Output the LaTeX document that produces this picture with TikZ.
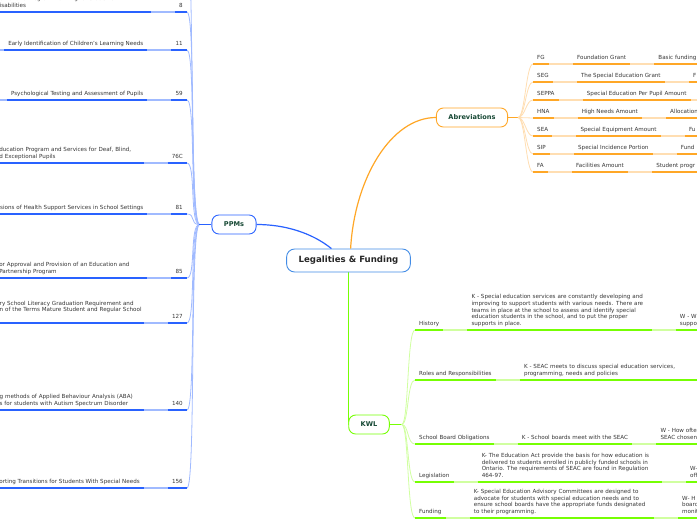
\documentclass[tikz,border=0pt]{standalone}
\usepackage{fontspec}
\setsansfont{DejaVu Sans}
\usetikzlibrary{positioning, calc}
\pgfdeclarelayer{background}
\pgfsetlayers{background,main}

\definecolor{rootblue}{RGB}{66,140,230}
\definecolor{ppmblue}{RGB}{41,98,255}
\definecolor{ppmpale}{RGB}{160,186,255}
\definecolor{abrorange}{RGB}{255,167,38}
\definecolor{abrpale}{RGB}{255,222,178}
\definecolor{kwlgreen}{RGB}{118,255,3}
\definecolor{kwlpale}{RGB}{208,255,160}
\definecolor{topictext}{RGB}{22,72,52}
\definecolor{itemtext}{RGB}{55,55,55}

\newcommand{\itemfont}{\sffamily\fontsize{5.6}{6.7}\selectfont}

\begin{document}
\begin{tikzpicture}[x=1pt, y=-1pt,
  rootnode/.style={draw=rootblue, line width=0.9pt, rounded corners=8pt, fill=white,
    minimum height=23pt, inner xsep=12pt, text=black!85,
    font=\sffamily\bfseries\fontsize{8.6}{10}\selectfont},
  topic/.style={draw=#1, line width=0.9pt, rounded corners=7pt, fill=white,
    minimum height=19pt, inner xsep=12pt, text=topictext,
    font=\sffamily\bfseries\fontsize{6.6}{8}\selectfont},
  leaf/.style={font=\itemfont, text=itemtext, inner xsep=4pt, inner ysep=2.2pt,
    align=left, execute at end node=\strut},
  mainlink/.style={line width=1.2pt},
  ppmul/.style={draw=ppmblue, line width=1.4pt},
  ppmgap/.style={draw=ppmpale, line width=1.4pt},
  ppmlink/.style={draw=ppmpale, line width=0.8pt},
  abrul/.style={draw=abrorange, line width=1.4pt},
  abrgap/.style={draw=abrpale, line width=1.4pt},
  abrlink/.style={draw=abrpale, line width=0.8pt},
  kwlul/.style={draw=kwlgreen, line width=1.4pt},
  kwlgap/.style={draw=kwlpale, line width=1.4pt},
  kwllink/.style={draw=kwlpale, line width=0.8pt}]

\useasboundingbox (0,0) rectangle (697,520);
\clip (0,0) rectangle (697,520);

% --- centre and main topics ---
\node[rootnode] (root) at (348.5,260.5) {Legalities \& Funding};
\node[topic=ppmblue] (ppms) at (234,224.5) {PPMs};
\node[topic=abrorange] (abrev) at (472,117.5) {Abreviations};
\node[topic=kwlgreen] (kwl) at (369,424.5) {KWL};

\draw[mainlink, ppmblue] (ppms.east) .. controls +(28,0) and +(-20,-16) .. (root.145);
\draw[mainlink, abrorange] (root.80) .. controls +(4,-70) and +(-45,0) .. (abrev.west);
\begin{pgfonlayer}{background}
  \fill[white] (0,0) rectangle (697,520);
  \draw[mainlink, kwlgreen, line width=1.4pt] (root.south) -- (root.south |- kwl.center);
\end{pgfonlayer}

% --- PPMs (numbers, then titles to the left) ---
\coordinate (ppmhub) at ($(ppms.west)+(-12,0)$);
\coordinate (ppmtop) at (188,-40);

\node[leaf, anchor=south east] (n1) at (187,12) {8};
\node[leaf, left=24pt of n1.south west, anchor=south east, text width=147pt] (t1)
  {on of and Program Planning for Students with\\isabilities};
\node[leaf, anchor=south east] (n2) at (187,50) {11};
\node[leaf, left=24pt of n2.south west, anchor=south east] (t2)
  {Early Identification of Children's Learning Needs};
\node[leaf, anchor=south east] (n3) at (187,100) {59};
\node[leaf, left=24pt of n3.south west, anchor=south east] (t3)
  {Psychological Testing and Assessment of Pupils};
\node[leaf, anchor=south east] (n4) at (187,163) {76C};
\node[leaf, left=24pt of n4.south west, anchor=south east, text width=140pt] (t4)
  {ducation Program and Services for Deaf, Blind,\\d Exceptional Pupils};
\node[leaf, anchor=south east] (n5) at (187,214) {81};
\node[leaf, left=24pt of n5.south west, anchor=south east] (t5)
  {sions of Health Support Services in School Settings};
\node[leaf, anchor=south east] (n6) at (187,278) {85};
\node[leaf, left=24pt of n6.south west, anchor=south east, text width=144pt] (t6)
  {or Approval and Provision of an Education and\\ Partnership Program};
\node[leaf, anchor=south east] (n7) at (187,323) {127};
\node[leaf, left=24pt of n7.south west, anchor=south east, text width=140pt] (t7)
  {\mbox{ry School Literacy Graduation Requirement and}\\\mbox{n of the Terms Mature Student and Regular School}\\ \mbox{}};
\node[leaf, anchor=south east] (n8) at (187,410) {140};
\node[leaf, left=24pt of n8.south west, anchor=south east, text width=140pt] (t8)
  {\mbox{g methods of Applied Behaviour Analysis (ABA)}\\\mbox{s for students with Autism Spectrum Disorder}};
\node[leaf, anchor=south east] (n9) at (187,488) {156};
\node[leaf, left=24pt of n9.south west, anchor=south east] (t9)
  {orting Transitions for Students With Special Needs};

\draw[ppmlink] (ppmtop) .. controls +(6,0) and +(-10,0) .. (ppmhub);
\foreach \n in {n1,n2,n3,n4,n5,n6,n7,n8,n9}
  \draw[ppmlink] (\n.south east) .. controls +(9,0) and +(-10,0) .. (ppmhub);
\draw[ppmul] (ppmhub) -- (ppms.west);
\foreach \a/\b in {t1/n1,t2/n2,t3/n3,t4/n4,t5/n5,t6/n6,t7/n7,t8/n8,t9/n9}
  \draw[ppmgap] (\a.south east) -- (\b.south west);
\draw[ppmgap] (t2.south west) -- ++(-12,0);
\draw[ppmgap] (t3.south west) -- ++(-12,0);
\foreach \n in {n1,n2,n3,n4,n5,n6,n7,n8,n9,t1,t2,t3,t4,t5,t6,t7,t8,t9}
  \draw[ppmul] (\n.south west) -- (\n.south east);

% --- Abreviations ---
\coordinate (abrhub) at ($(abrev.east)+(10,0)$);

\node[leaf, anchor=south west] (fg) at (533,64) {FG};
\node[leaf, right=24pt of fg.south east, anchor=south west] (fgname) {Foundation Grant};
\node[leaf, right=24pt of fgname.south east, anchor=south west, text width=70pt] (fgnote) {Basic funding};
\node[leaf, anchor=south west] (seg) at (533,82) {SEG};
\node[leaf, right=24pt of seg.south east, anchor=south west] (segname) {The Special Education Grant};
\node[leaf, right=24pt of segname.south east, anchor=south west, text width=70pt] (segnote) {F};
\node[leaf, anchor=south west] (seppa) at (533,100) {SEPPA};
\node[leaf, right=24pt of seppa.south east, anchor=south west] (seppaname) {Special Education Per Pupil Amount};
\node[leaf, anchor=south west] (hna) at (533,118) {HNA};
\node[leaf, right=24pt of hna.south east, anchor=south west] (hnaname) {High Needs Amount};
\node[leaf, right=24pt of hnaname.south east, anchor=south west, text width=70pt] (hnanote) {Allocation};
\node[leaf, anchor=south west] (sea) at (533,136) {SEA};
\node[leaf, right=24pt of sea.south east, anchor=south west] (seaname) {Special Equipment Amount};
\node[leaf, right=24pt of seaname.south east, anchor=south west, text width=70pt] (seanote) {Fu};
\node[leaf, anchor=south west] (sip) at (533,154) {SIP};
\node[leaf, right=24pt of sip.south east, anchor=south west] (sipname) {Special Incidence Portion};
\node[leaf, right=24pt of sipname.south east, anchor=south west, text width=70pt] (sipnote) {Fund};
\node[leaf, anchor=south west] (fa) at (533,172) {FA};
\node[leaf, right=24pt of fa.south east, anchor=south west] (faname) {Facilities Amount};
\node[leaf, right=24pt of faname.south east, anchor=south west, text width=70pt] (fanote) {Student progr};

\draw[abrul] (abrev.east) -- (abrhub);
\foreach \n in {fg,seg,seppa,hna,sea,sip,fa}
  \draw[abrlink] (abrhub) .. controls +(7,0) and +(-7,0) .. (\n.south west);
\foreach \a/\b in {fg/fgname,fgname/fgnote,seg/segname,segname/segnote,seppa/seppaname,
    hna/hnaname,hnaname/hnanote,sea/seaname,seaname/seanote,sip/sipname,sipname/sipnote,
    fa/faname,faname/fanote}
  \draw[abrgap] (\a.south east) -- (\b.south west);
\draw[abrgap] (seppaname.south east) -- ++(20,0);
\foreach \n in {fg,fgname,fgnote,seg,segname,segnote,seppa,seppaname,hna,hnaname,hnanote,
    sea,seaname,seanote,sip,sipname,sipnote,fa,faname,fanote}
  \draw[abrul] (\n.south west) -- (\n.south east);

% --- KWL ---
\coordinate (kwlhub) at ($(kwl.east)+(12,0)$);

\node[leaf, anchor=south west] (hist) at (415,330) {History};
\node[leaf, right=24pt of hist.south east, anchor=south west, text width=176pt] (histk)
  {K - Special education services are constantly developing and\\improving to support students with various needs. There are\\teams in place at the school to assess and identify special\\education students in the school, and to put the proper\\supports in place.};
\node[leaf, right=24pt of histk.south east, anchor=south west, text width=60pt] (histw)
  {W - W\\suppo};
\node[leaf, anchor=south west] (roles) at (415,380) {Roles and Responsibilities};
\node[leaf, right=24pt of roles.south east, anchor=south west, text width=176pt] (rolesk)
  {K - SEAC meets to discuss special education services,\\programming, needs and policies};
\node[leaf, anchor=south west] (board) at (415,444) {School Board Obligations};
\node[leaf, right=24pt of board.south east, anchor=south west] (boardk)
  {K - School boards meet with the SEAC};
\node[leaf, right=24pt of boardk.south east, anchor=south west, text width=60pt] (boardw)
  {W - How ofte\\SEAC chosen};
\node[leaf, anchor=south west] (legis) at (415,482) {Legislation};
\node[leaf, right=24pt of legis.south east, anchor=south west, text width=176pt] (legisk)
  {K- The Education Act provide the basis for how education is\\delivered to students enrolled in publicly funded schools in\\Ontario. The requirements of SEAC are found in Regulation\\464-97.};
\node[leaf, right=24pt of legisk.south east, anchor=south west, text width=60pt] (legisw)
  {W-\\off};
\node[leaf, anchor=south west] (fund) at (415,518) {Funding};
\node[leaf, right=24pt of fund.south east, anchor=south west, text width=176pt] (fundk)
  {K- Special Education Advisory Committees are designed to\\advocate for students with special education needs and to\\ensure school boards have the appropriate funds designated\\to their programming.};
\node[leaf, right=24pt of fundk.south east, anchor=south west, text width=60pt] (fundw)
  {W- H\\board\\monit};

\draw[kwlul] (kwl.east) -- (kwlhub);
\foreach \n in {hist,roles,board,legis,fund}
  \draw[kwllink] (kwlhub) .. controls +(7,0) and +(-8,0) .. (\n.south west);
\foreach \a/\b in {hist/histk,histk/histw,roles/rolesk,board/boardk,boardk/boardw,
    legis/legisk,legisk/legisw,fund/fundk,fundk/fundw}
  \draw[kwlgap] (\a.south east) -- (\b.south west);
\foreach \n in {hist,histk,histw,roles,rolesk,board,boardk,boardw,legis,legisk,legisw,
    fund,fundk,fundw}
  \draw[kwlul] (\n.south west) -- (\n.south east);
\end{tikzpicture}
\end{document}
